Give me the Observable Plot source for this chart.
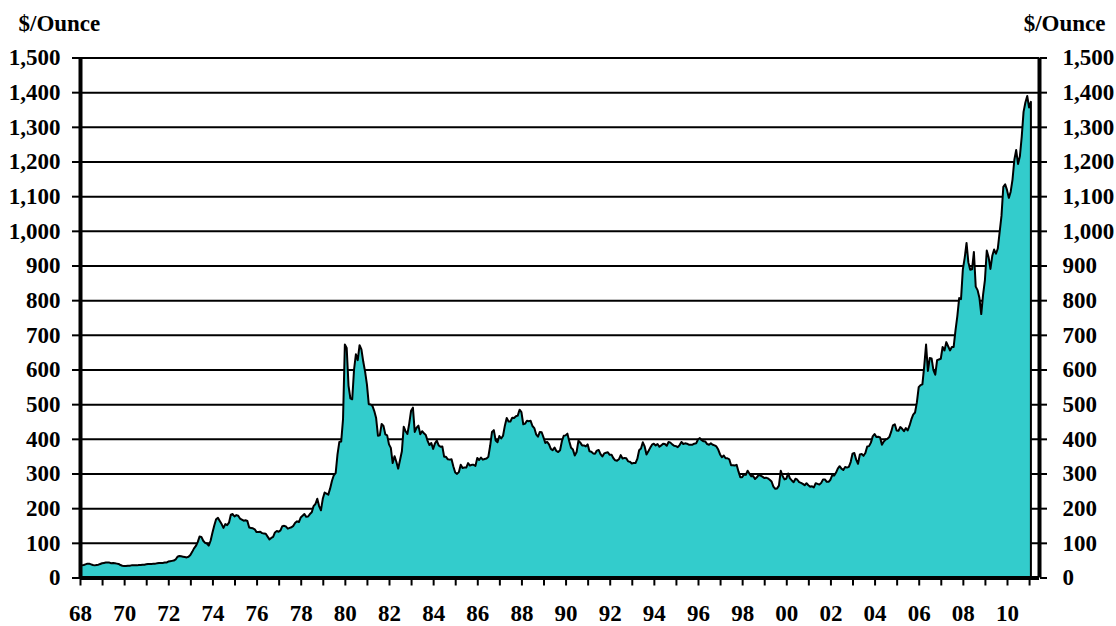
<!DOCTYPE html>
<html>
<head>
<meta charset="utf-8">
<script src="https://cdn.jsdelivr.net/npm/d3@7"></script>
<script src="https://cdn.jsdelivr.net/npm/@observablehq/plot@0.6"></script>
<style>
  html, body { margin: 0; padding: 0; background: #fff; }
  #chart { width: 1116px; height: 626px; }
</style>
</head>
<body>
<div id="chart"></div>
<script>
// Monthly gold price ($/ounce), first value = January 1968
const startYear = 1968;
const prices1968to1979 = [
  34,35,36,38,40,40,38,36,35,36,37,39,        // 1968
  41,42,43,43,43,41,42,41,40,39,36,34,        // 1969
  33,33,34,34,35,35,35,35,36,36,37,37,        // 1970
  38,39,39,39,40,40,41,42,42,42,43,43,        // 1971
  46,47,48,49,52,60,62,61,60,59,58,60,        // 1972
  65,74,84,91,102,118,117,106,100,98,92,106,  // 1973
  129,150,168,172,163,154,143,154,151,158,181,183, // 1974
  176,180,178,170,167,164,165,163,144,143,142,139, // 1975
  131,131,132,128,127,126,118,110,114,117,130,134, // 1976
  132,136,148,149,147,141,143,145,149,158,162,160, // 1977
  173,178,183,175,176,183,188,206,212,227,206,194, // 1978
  227,245,242,239,257,279,295,301,355,391,392,456  // 1979
];
const prices1980s = [
  672,662,553,517,514,600,644,627,670,658,623,594, // 1980
  557,500,499,495,480,460,409,410,443,437,413,410, // 1981
  384,374,330,350,334,314,339,364,435,422,414,444, // 1982
  481,490,420,432,438,413,422,416,411,394,382,388, // 1983
  371,387,395,381,377,378,348,348,341,340,341,320, // 1984
  303,299,304,325,316,317,317,330,323,325,325,322, // 1985
  345,339,346,340,342,343,348,380,420,425,395,390, // 1986
  408,401,409,438,460,450,450,461,460,465,467,484, // 1987
  477,442,444,452,451,452,437,431,413,406,420,419, // 1988
  404,388,391,384,371,367,375,365,362,367,393,409  // 1989
];
const prices1990s = [
  410,415,393,374,369,352,362,395,389,381,381,378, // 1990
  384,364,363,358,357,366,368,356,349,358,360,361, // 1991
  354,354,344,338,337,341,353,343,345,344,335,334, // 1992
  329,330,330,342,367,372,390,378,355,364,374,383, // 1993
  386,381,385,377,381,386,385,380,391,389,384,380, // 1994
  379,376,382,391,385,387,386,383,383,383,386,387, // 1995
  398,402,396,393,392,385,383,387,383,381,378,369, // 1996
  355,347,352,344,344,341,324,324,323,325,306,289, // 1997
  289,297,296,308,299,292,293,284,289,296,294,291, // 1998
  287,288,286,282,277,262,256,257,265,308,293,283  // 1999
];
const prices2000s = [
  285,300,286,280,275,285,282,275,273,270,266,272, // 2000
  266,262,263,260,272,270,268,273,283,283,276,276, // 2001
  282,295,294,302,314,321,314,310,319,317,319,333, // 2002
  357,359,340,328,355,356,351,359,378,379,389,407, // 2003
  414,405,406,404,383,392,398,400,405,420,439,442, // 2004
  424,423,434,429,422,431,424,438,456,470,476,505, // 2005
  549,555,557,610,672,596,633,632,598,585,627,629, // 2006
  631,665,655,679,667,655,665,665,713,754,806,803, // 2007
  889,922,965,909,888,889,939,839,829,807,760,816, // 2008
  858,943,924,890,928,946,934,949,996,1043,1127,1134 // 2009
];
const prices2010s = [
  1118,1095,1113,1148,1205,1233,1193,1215,1271,1343,1370,1389, // 2010
  1356,1372 // 2011
];

const yTickValues = d3.range(0, 1501, 100);
const yearTicks = d3.range(1968, 2012, 1);
const labelYears = d3.range(1968, 2011, 2);
const unitLabel = "$/Ounce";
const xDomain = [1968, 2011.45];
const yDomain = [0, 1500];

const prices = [...prices1968to1979, ...prices1980s, ...prices1990s, ...prices2000s, ...prices2010s];
const data = prices.map((v, i) => ({year: startYear + i / 12, price: v}));

const font = "'Liberation Serif', 'Times New Roman', Times, serif";
const textOpts = {fontSize: 23, fontWeight: "bold", fontFamily: font};

const chart = Plot.plot({
  width: 1116,
  height: 626,
  marginTop: 57.5,
  marginBottom: 48.5,
  marginLeft: 80,
  marginRight: 77,
  style: {fontFamily: font, fontSize: "23px", fontWeight: "bold", color: "black", background: "white", overflow: "visible"},
  x: {domain: xDomain},
  y: {domain: yDomain},
  marks: [
    Plot.gridY(yTickValues, {stroke: "black", strokeOpacity: 1, strokeWidth: 2}),
    Plot.areaY(data, {x: "year", y: "price", fill: "#33CCCC", stroke: "black", strokeWidth: 2, strokeLinejoin: "round"}),
    Plot.axisY(yTickValues, {anchor: "left", tickSize: 8, tickPadding: 12, strokeWidth: 2, tickFormat: d3.format(","), label: null, ...textOpts}),
    Plot.axisY(yTickValues, {anchor: "right", tickSize: 7, tickPadding: 16, strokeWidth: 2, tickFormat: d3.format(","), label: null, ...textOpts}),
    Plot.axisX(yearTicks, {anchor: "bottom", tickSize: 8, strokeWidth: 2, tickFormat: () => "", label: null}),
    Plot.axisX(labelYears, {anchor: "bottom", tickSize: 0, tickPadding: 27, tickFormat: d => String(d % 100).padStart(2, "0"), label: null, ...textOpts}),
    Plot.ruleX([xDomain[0]], {stroke: "black", strokeWidth: 4}),
    Plot.ruleX([xDomain[1]], {stroke: "black", strokeWidth: 4}),
    Plot.ruleY([0], {stroke: "black", strokeWidth: 4}),
    Plot.text([unitLabel], {frameAnchor: "top-left", lineAnchor: "middle", dx: -62, dy: -34, textAnchor: "start", ...textOpts}),
    Plot.text([unitLabel], {frameAnchor: "top-right", lineAnchor: "middle", dx: 66, dy: -34, textAnchor: "end", ...textOpts})
  ]
});
document.getElementById("chart").appendChild(chart);
</script>
</body>
</html>
